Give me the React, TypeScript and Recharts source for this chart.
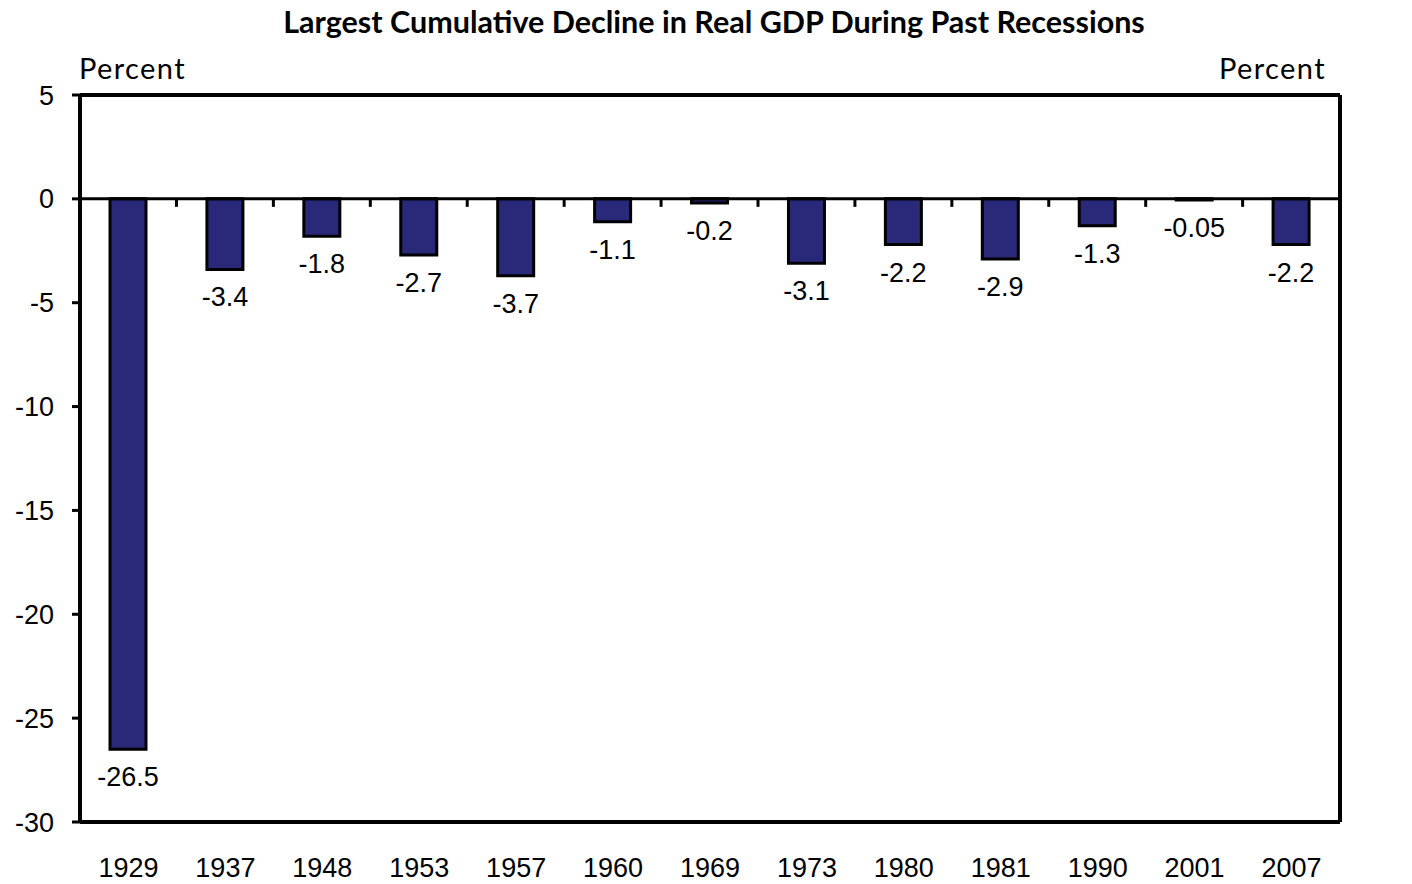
import {
  BarChart,
  Bar,
  XAxis,
  YAxis,
  ReferenceLine,
  LabelList,
  Rectangle,
} from 'recharts'

const years = ['1929', '1937', '1948', '1953', '1957', '1960', '1969', '1973', '1980', '1981', '1990', '2001', '2007']
const declines = [-26.5, -3.4, -1.8, -2.7, -3.7, -1.1, -0.2, -3.1, -2.2, -2.9, -1.3, -0.05, -2.2]
const yTicks = [5, 0, -5, -10, -15, -20, -25, -30]

const data = years.map((year, i) => ({ year, value: declines[i] }))

const AXIS_FONT = '"Liberation Sans", Arial, sans-serif'
const BAR_FILL = '#2A2878'

const CHART_W = 1412
const CHART_H = 884
const MARGIN = { top: 95, right: 12, left: 20, bottom: 0 }
const Y_AXIS_W = 60
const PLOT_W = CHART_W - MARGIN.left - MARGIN.right - 2 * Y_AXIS_W
const BAND = PLOT_W / years.length

// bar plus the small category-boundary tick on the zero line
function BarWithTick(props: any) {
  const { x, y, width, height, index } = props
  const zeroY = Math.min(y, y + height)
  const tickX = x + width / 2 + BAND / 2
  return (
    <g>
      <Rectangle {...props} />
      {index < years.length - 1 && (
        <line x1={tickX} x2={tickX} y1={zeroY} y2={zeroY + 8} stroke="#000" strokeWidth={3} />
      )}
    </g>
  )
}

function ValueLabel(props: any) {
  const { x, y, width, height, value } = props
  const end = Math.max(y, y + height)
  return (
    <text
      x={x + width / 2}
      y={end + 28}
      textAnchor="middle"
      dominantBaseline="central"
      fontFamily={AXIS_FONT}
      fontSize={27}
      fill="#000"
    >
      {String(value)}
    </text>
  )
}

export default function App() {
  const tickStyle = { fontSize: 27, fill: '#000', fontFamily: AXIS_FONT }
  return (
    <div style={{ position: 'absolute', left: 0, top: 0, width: CHART_W, height: CHART_H, background: '#fff' }}>
      <div
        style={{
          position: 'absolute',
          left: 0,
          width: 1428,
          top: 3,
          textAlign: 'center',
          fontFamily: 'Lato, sans-serif',
          fontWeight: 700,
          fontSize: 30.5,
          color: '#000',
        }}
      >
        Largest Cumulative Decline in Real GDP During Past Recessions
      </div>
      <div style={{ position: 'absolute', left: 79, top: 50, fontFamily: 'Lato, sans-serif', fontSize: 29, letterSpacing: 1.4 }}>
        Percent
      </div>
      <div style={{ position: 'absolute', right: 1412 - 1326, top: 50, fontFamily: 'Lato, sans-serif', fontSize: 29, letterSpacing: 1.4 }}>
        Percent
      </div>
      <BarChart width={CHART_W} height={CHART_H} data={data} margin={MARGIN} barSize={36}>
        <XAxis
          dataKey="year"
          type="category"
          height={62}
          axisLine={{ stroke: '#000', strokeWidth: 4 }}
          tickLine={false}
          tickSize={8}
          tickMargin={28}
          tick={tickStyle}
          interval={0}
        />
        <YAxis
          yAxisId="left"
          domain={[-30, 5]}
          ticks={yTicks}
          width={Y_AXIS_W}
          axisLine={{ stroke: '#000', strokeWidth: 4 }}
          tickLine={{ stroke: '#000', strokeWidth: 3 }}
          tickSize={8}
          tickMargin={18}
          tick={tickStyle}
          interval={0}
        />
        <YAxis
          yAxisId="right"
          orientation="right"
          domain={[-30, 5]}
          ticks={yTicks}
          width={Y_AXIS_W}
          axisLine={{ stroke: '#000', strokeWidth: 4 }}
          tickLine={{ stroke: '#000', strokeWidth: 3 }}
          tickSize={8}
          tickMargin={19}
          tick={{ ...tickStyle, textAnchor: 'start' }}
          interval={0}
        />
        <ReferenceLine yAxisId="left" y={5} stroke="#000" strokeWidth={4} />
        <Bar
          yAxisId="left"
          dataKey="value"
          fill={BAR_FILL}
          stroke="#000"
          strokeWidth={3}
          shape={<BarWithTick />}
          isAnimationActive={false}
        >
          <LabelList dataKey="value" content={<ValueLabel />} />
        </Bar>
        <ReferenceLine yAxisId="left" y={0} stroke="#000" strokeWidth={3} />
      </BarChart>
    </div>
  )
}
